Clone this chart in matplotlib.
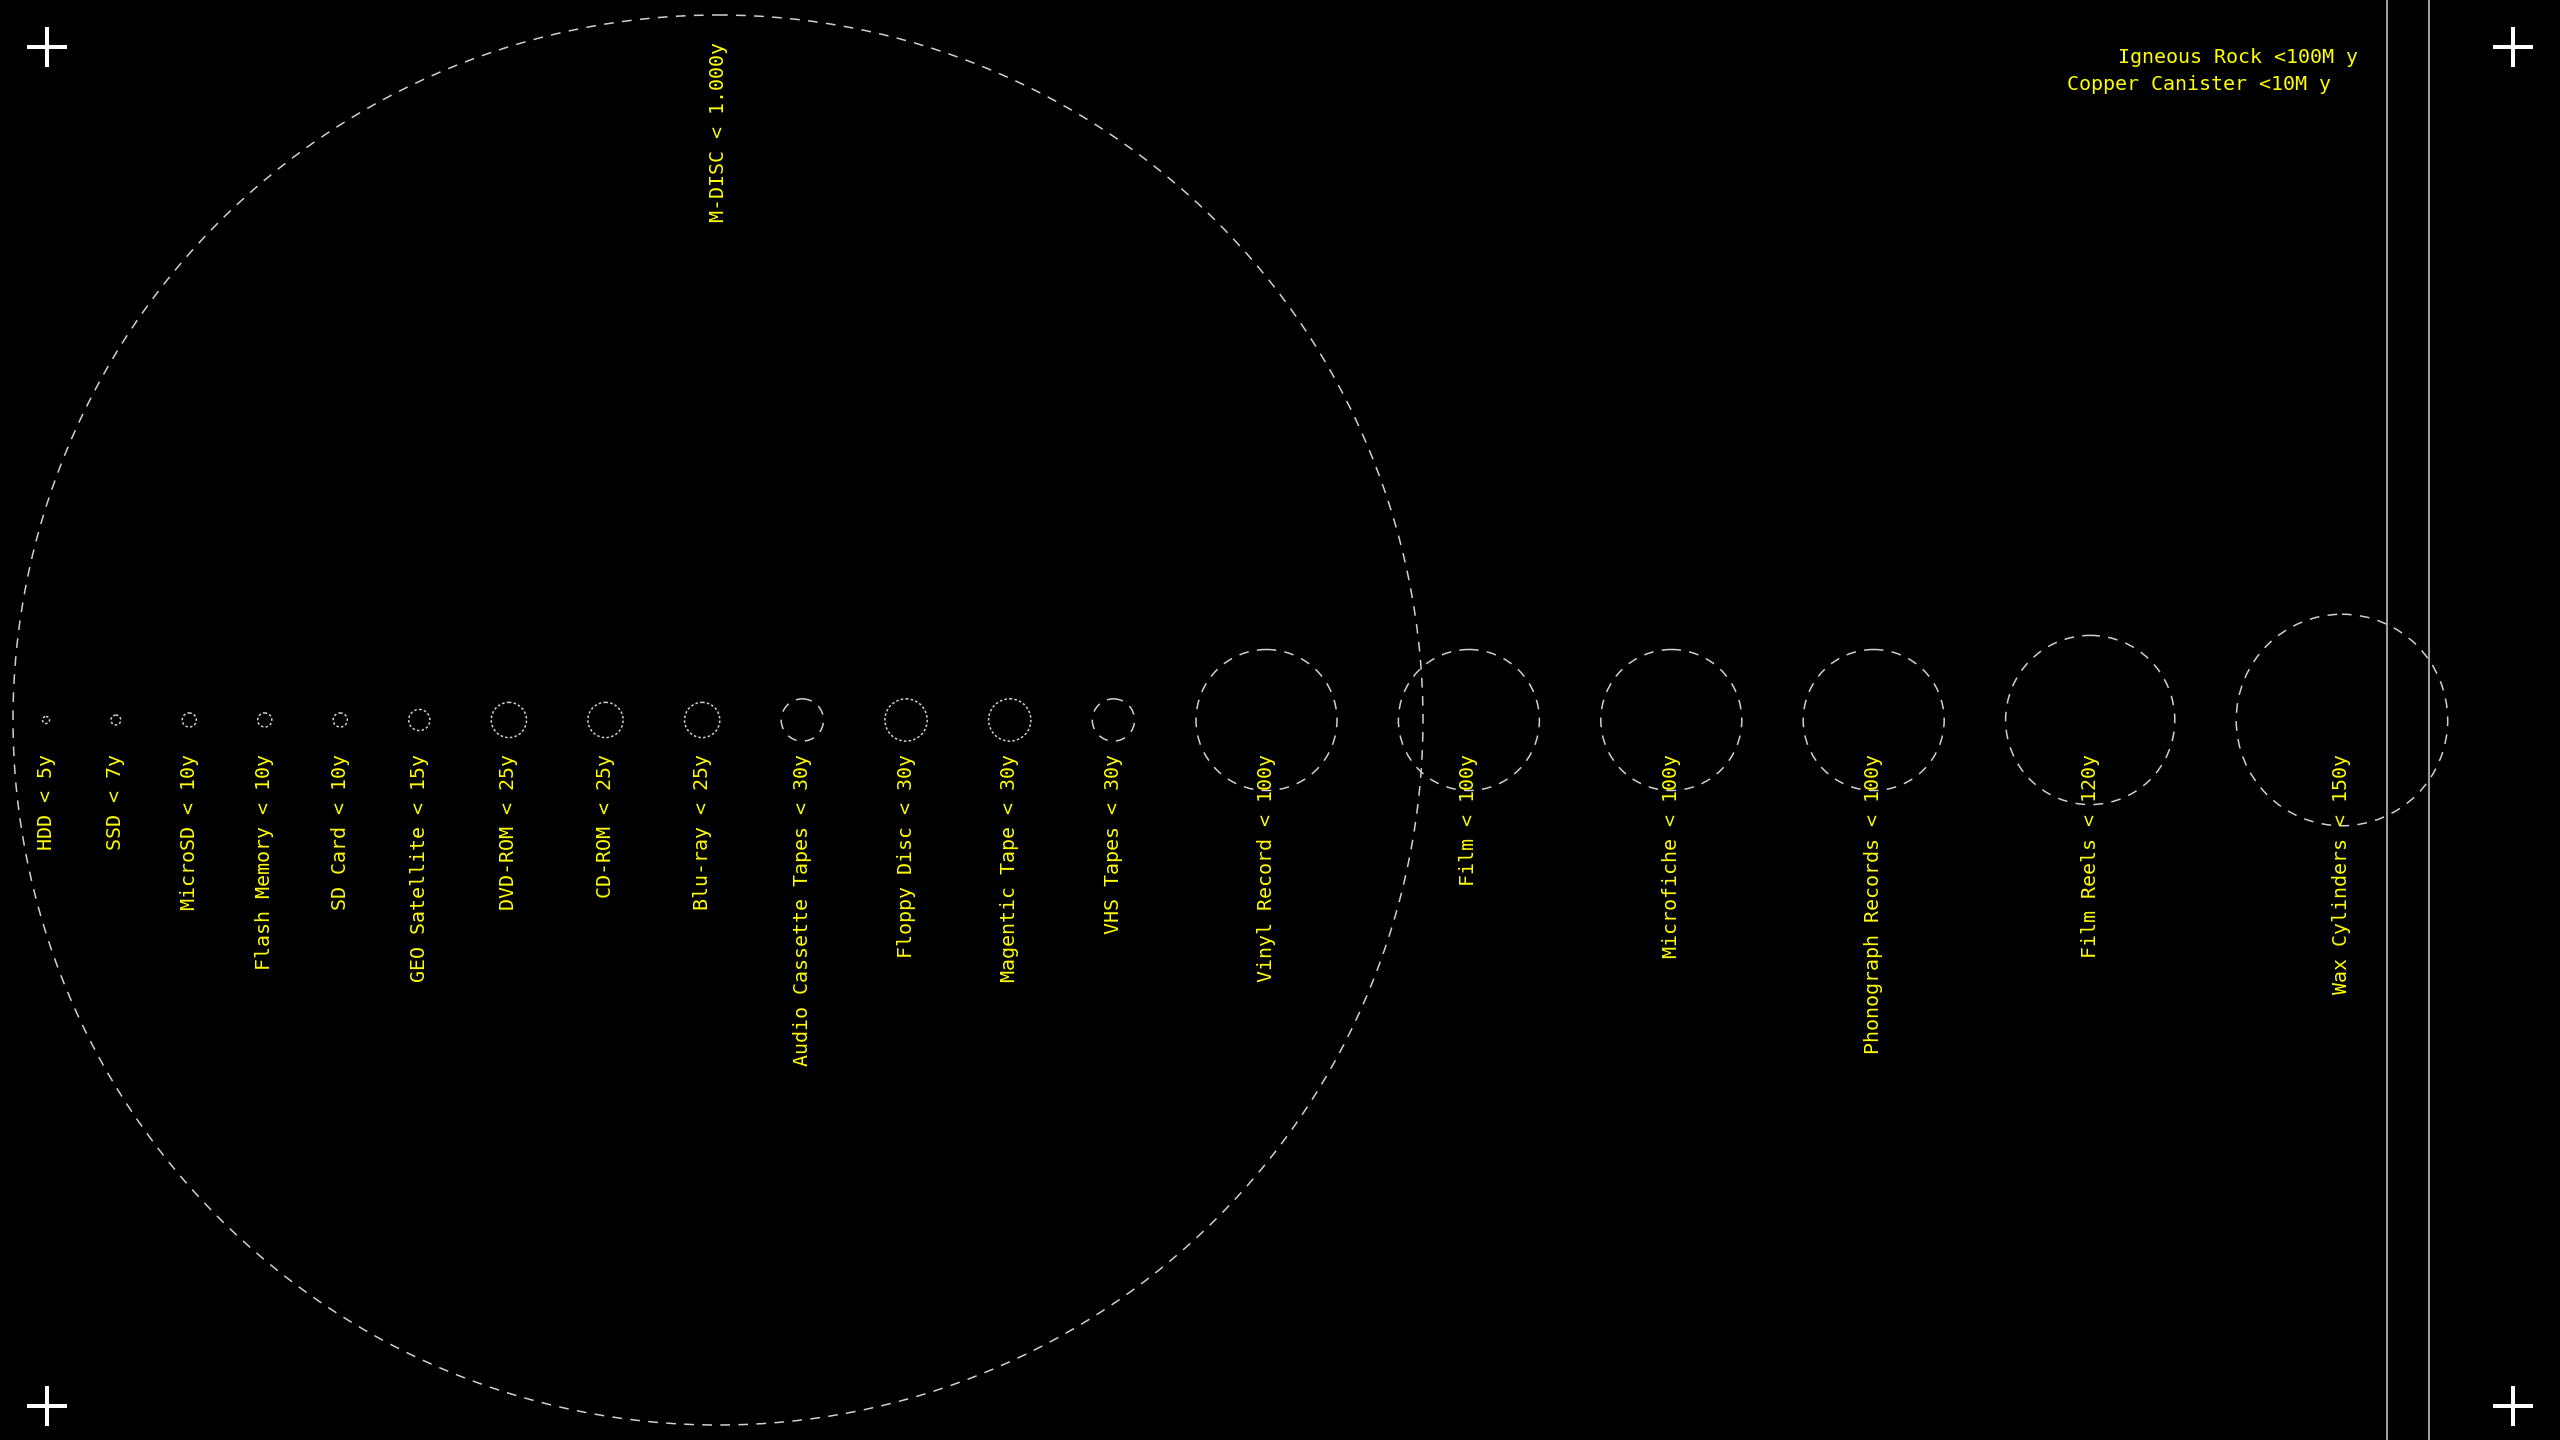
import matplotlib
matplotlib.use('Agg')
import matplotlib.pyplot as plt
from matplotlib.patches import Circle

plt.rcParams.update({
    'font.family': ['DejaVu Sans Mono'],
    'lines.scale_dashes': False,
})

# storage media and their lifespan in years
media = ['HDD', 'SSD', 'MicroSD', 'Flash Memory', 'SD Card', 'GEO Satellite',
         'DVD-ROM', 'CD-ROM', 'Blu-ray', 'Audio Cassette Tapes', 'Floppy Disc',
         'Magentic Tape', 'VHS Tapes', 'Vinyl Record', 'Film', 'Microfiche',
         'Phonograph Records', 'Film Reels', 'Wax Cylinders']
years = [5, 7, 10, 10, 10, 15, 25, 25, 25, 30, 30, 30, 30,
         100, 100, 100, 100, 120, 150]

big_name = 'M-DISC'
big_years = 1000

notes = ['Igneous Rock <100M y', 'Copper Canister <10M y']

# ------------------------------------------------------------
W, H = 2560, 1440
PX_PER_YEAR = 705 / 1000     # radius scale
GAP = 61.4                   # space between neighbouring circles
CY = H / 2
YELLOW = '#ffff00'
GREY = '#cfcfcf'
SHORT = (0, (1.8, 1.6))
LONG = (0, (7, 6))
long_dash = {'Audio Cassette Tapes', 'VHS Tapes'}

fig = plt.figure(figsize=(W / 100, H / 100), dpi=100, facecolor='black')
ax = fig.add_axes([0, 0, 1, 1])
ax.set_facecolor('black')
ax.set_xlim(0, W)
ax.set_ylim(H, 0)
ax.axis('off')

# row of circles, packed left to right
x = 46.0
prev_r = None
for name, y in zip(media, years):
    r = y * PX_PER_YEAR
    if prev_r is not None:
        x += prev_r + GAP + r
    ls = LONG if (name in long_dash or y >= 100) else SHORT
    ax.add_patch(Circle((x, CY), r, fill=False, edgecolor=GREY, lw=1.1, ls=ls))
    ax.text(x, CY + 34, f'{name} < {y}y', rotation=90, ha='center', va='top',
            color=YELLOW, fontsize=14.4)
    prev_r = r

# the big one
R = big_years * PX_PER_YEAR
bx = 13 + R
ax.add_patch(Circle((bx, CY), R, fill=False, edgecolor=GREY, lw=1.1, ls=LONG))
ax.text(bx, CY - R + 27, f"{big_name} < {big_years:,}y".replace(',', '.'),
        rotation=90, ha='center', va='top', color=YELLOW, fontsize=14.4)

# far-off boundaries
for lx in (2387, 2429):
    ax.axvline(lx, color=GREY, lw=1.1)

ax.text(2358, 63, notes[0], ha='right', va='baseline', color=YELLOW, fontsize=14.4)
ax.text(2331, 90.5, notes[1], ha='right', va='baseline', color=YELLOW, fontsize=14.4)

# corner crosses
for cx, cy in [(47, 47), (2513, 47), (47, 1406), (2513, 1406)]:
    ax.plot(cx, cy, marker='+', ms=29, mew=2.9, color='white')

fig.savefig('out.png', dpi=100, facecolor='black')
